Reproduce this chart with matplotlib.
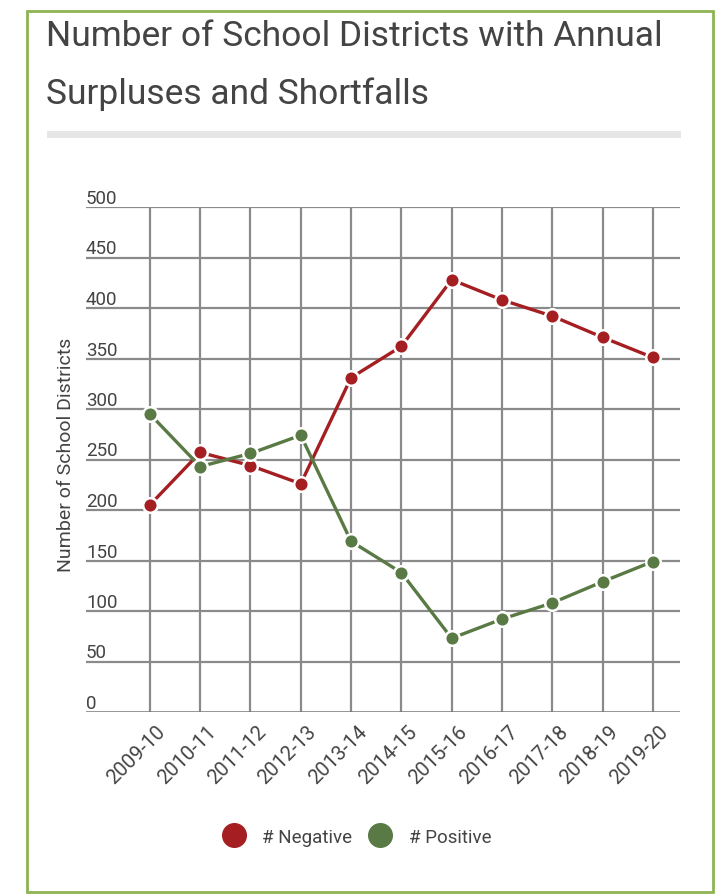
import matplotlib
matplotlib.use("Agg")
import matplotlib.pyplot as plt
import matplotlib.transforms as mtransforms
from matplotlib.lines import Line2D
from matplotlib.patches import Rectangle

years = ["2009-10", "2010-11", "2011-12", "2012-13", "2013-14", "2014-15",
         "2015-16", "2016-17", "2017-18", "2018-19", "2019-20"]
negative = [205, 257, 244, 226, 331, 362, 428, 408, 392, 371, 351]
positive = [295, 243, 256, 274, 169, 138, 73, 92, 108, 129, 149]
y_ticks = [0, 50, 100, 150, 200, 250, 300, 350, 400, 450, 500]

RED = "#a51f22"
GREEN = "#5a7a45"
TEXT = "#444444"
GRID = "#8a8a8a"

plt.rcParams["font.family"] = ["Roboto", "DejaVu Sans"]

W, H = 722, 895
fig = plt.figure(figsize=(W / 100, H / 100), dpi=100)
fig.patch.set_facecolor("white")

# outer frame
fig.add_artist(Rectangle((27 / W, 1 - 893 / H), 686 / W, 881 / H,
                         transform=fig.transFigure, fill=False,
                         edgecolor="#8db353", linewidth=2))

# title and divider bar
fig.text(46 / W, 1 - 36 / H, "Number of School Districts with Annual",
         fontsize=25.5, color=TEXT, va="center", ha="left")
fig.text(46 / W, 1 - 94 / H, "Surpluses and Shortfalls",
         fontsize=25.5, color=TEXT, va="center", ha="left")
fig.add_artist(Rectangle((47 / W, 1 - 139 / H), 634 / W, 7 / H,
                         transform=fig.transFigure, facecolor="#e6e6e6",
                         edgecolor="none"))

ax = fig.add_axes([86 / W, 1 - 713 / H, 594 / W, 505 / H])
x = list(range(len(years)))

ax.set_xlim(-1.27, 10.54)
ax.set_ylim(0, 500)

for v in y_ticks[1:]:
    ax.axhline(v, color=GRID, lw=1.6, zorder=1)
for xi in x:
    ax.axvline(xi, color=GRID, lw=1.6, zorder=1)
ax.axhline(0, color="#777777", lw=1.8, zorder=1)

ax.plot(x, negative, color=RED, lw=2.4, marker="o", markersize=10.5,
        markerfacecolor=RED, markeredgecolor="white", markeredgewidth=1.8,
        zorder=3)
ax.plot(x, positive, color=GREEN, lw=2.4, marker="o", markersize=10.5,
        markerfacecolor=GREEN, markeredgecolor="white", markeredgewidth=1.8,
        zorder=3)

for s in ax.spines.values():
    s.set_visible(False)

ax.set_yticks(y_ticks)
ax.set_yticklabels([str(v) for v in y_ticks])
ax.tick_params(axis="y", length=0, pad=0, labelsize=13.5, labelcolor=TEXT)
for lbl in ax.get_yticklabels():
    lbl.set_horizontalalignment("left")
    lbl.set_verticalalignment("bottom")

ax.set_xticks(x)
ax.set_xticklabels(years, rotation=45, ha="right", rotation_mode="anchor")
ax.tick_params(axis="x", length=0, pad=7, labelsize=14.5, labelcolor=TEXT)
shift = mtransforms.ScaledTranslation(6 / 100, 0, fig.dpi_scale_trans)
for lbl in ax.get_xticklabels():
    lbl.set_transform(lbl.get_transform() + shift)

fig.text(66 / W, 1 - 455 / H, "Number of School Districts", rotation=90,
         fontsize=14, color=TEXT, ha="center", va="center")

handles = [
    Line2D([], [], ls="none", marker="o", markersize=17, color=RED,
           label="# Negative"),
    Line2D([], [], ls="none", marker="o", markersize=17, color=GREEN,
           label="# Positive"),
]
fig.legend(handles=handles, loc="center", bbox_to_anchor=(357 / W, 1 - 838 / H),
           ncol=2, frameon=False, fontsize=13.5, labelcolor=TEXT,
           handletextpad=0.9, columnspacing=0.9, handlelength=1.2)

fig.savefig("out.png", dpi=100, facecolor="white")
